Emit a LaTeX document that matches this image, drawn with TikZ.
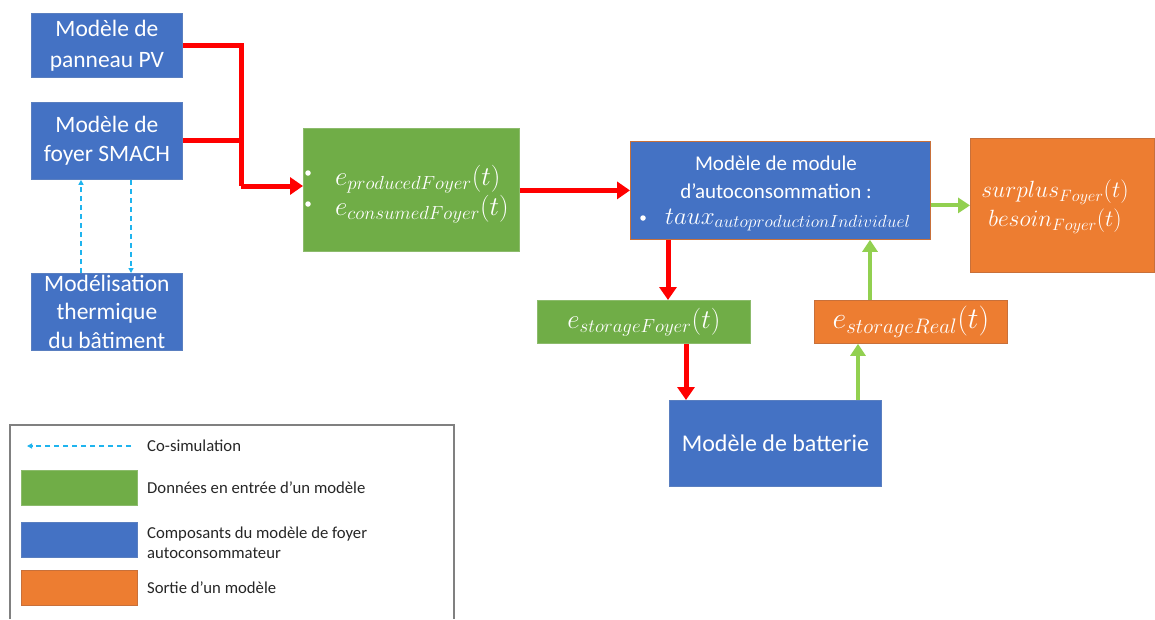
\RequirePackage{fix-cm}
\documentclass[tikz,border=0pt]{standalone}
\usepackage[no-math]{fontspec}
\setmainfont{Carlito}
\usetikzlibrary{arrows.meta}
\definecolor{cblue}{HTML}{4472C4}
\definecolor{cblueb}{HTML}{5A7FC0}
\definecolor{cgreen}{HTML}{70AD47}
\definecolor{cgreenb}{HTML}{8CBB6C}
\definecolor{corange}{HTML}{ED7D31}
\definecolor{corangeb}{HTML}{C8703A}
\definecolor{cred}{HTML}{FF0000}
\definecolor{clgreen}{HTML}{92D050}
\definecolor{ccyan}{HTML}{1FB4EE}
\definecolor{cgray}{HTML}{808080}
\definecolor{ctext}{HTML}{262626}
\begin{document}
\begin{tikzpicture}[x=1pt,y=-1pt,
  mbox/.style={draw, line width=0.8pt, inner sep=0pt, anchor=north west, text=white, align=center,
    font=\fontsize{23.5}{29}\selectfont},
  bluebox/.style={mbox, fill=cblue, draw=cblueb},
  greenbox/.style={mbox, fill=cgreen, draw=cgreenb},
  orangebox/.style={mbox, fill=corange, draw=corangeb},
  wtext/.style={text=white, inner sep=0pt},
  bul/.style={circle, fill=white, inner sep=0pt, minimum size=5.5pt},
  redarrow/.style={draw=cred, line width=5pt, -{Triangle[length=13pt,width=17pt]}},
  redline/.style={draw=cred, line width=5pt},
  greenarrow/.style={draw=clgreen, line width=4pt, -{Triangle[length=12pt,width=15pt]}},
  cosim/.style={draw=ccyan, line width=1.4pt, dash pattern=on 5pt off 4pt, -{Triangle[length=5pt,width=5pt]}},
  legtext/.style={anchor=west, inner sep=0pt, text=ctext, align=left, font=\fontsize{16.7}{20}\selectfont},
  legrect/.style={draw, line width=0.7pt, inner sep=0pt, anchor=north west, minimum width=116pt, minimum height=35pt}
]
\useasboundingbox (0,0) rectangle (1155,619);

% main boxes
\node[bluebox, minimum width=151pt, minimum height=64pt, font=\fontsize{23.5}{31}\selectfont] (pv) at (31,13) {Modèle de\\panneau PV};
\node[bluebox, minimum width=151pt, minimum height=77pt] (smach) at (31,102) {Modèle de\\foyer SMACH};
\node[bluebox, minimum width=151pt, minimum height=77pt, font=\fontsize{23.5}{28.5}\selectfont] (therm) at (31,273) {Modélisation\\thermique\\du bâtiment};

\node[greenbox, minimum width=216pt, minimum height=123pt] (inp) at (303,128) {};
\node[bul] (b1) at (308,173) {};
\node[bul] (b2) at (308,204) {};
\node[wtext, anchor=base west, font=\fontsize{27}{29}\selectfont] (inpa) at (335,185) {$e_{producedFoyer}(t)$};
\node[wtext, anchor=base west, font=\fontsize{27}{29}\selectfont] (inpb) at (335,215) {$e_{consumedFoyer}(t)$};

\node[bluebox, draw=corangeb, minimum width=300pt, minimum height=98pt] (mod) at (630,141) {};
\node[wtext, font=\fontsize{21}{24}\selectfont] (moda) at (776,163) {Modèle de module};
\node[wtext, font=\fontsize{21}{24}\selectfont] (modb) at (776,191) {d’autoconsommation :};
\node[bul] (b3) at (643,218) {};
\node[wtext, anchor=base west, font=\fontsize{25}{26}\selectfont] (modc) at (665,224) {$taux_{autoproductionIndividuel}$};

\node[orangebox, minimum width=184pt, minimum height=134pt] (out) at (970,138) {};
\node[wtext, align=center, font=\fontsize{23.5}{29}\selectfont] (outt) at (1055,207)
  {$surplus_{Foyer}(t)$\\$besoin_{Foyer}(t)$};

\node[greenbox, minimum width=213pt, minimum height=43pt, font=\fontsize{27}{29}\selectfont] (sf) at (537,300) {$e_{storageFoyer}(t)$};
\node[orangebox, minimum width=193pt, minimum height=43pt, font=\fontsize{30}{31}\selectfont] (sr) at (814,300) {$e_{storageReal}(t)$};
\node[bluebox, minimum width=212pt, minimum height=86pt, font=\fontsize{24}{29}\selectfont] (bat) at (669,400) {Modèle de batterie};

% connectors
\coordinate (j) at (241,186);
\draw[redline] (pv.east) -| (j);
\draw[redline] (smach.east) -- (smach.east -| j);
\draw[redarrow] (j) -- (j -| inp.west);
\draw[redarrow] (inp.east |- mod.west) -- (mod.west);
\draw[greenarrow] (out.west -| mod.east) -- (out.west);

\coordinate (c1) at (668,0);
\coordinate (c2) at (686,0);
\coordinate (c3) at (858,0);
\coordinate (c4) at (870,0);
\draw[redarrow] (c1 |- mod.south) -- (c1 |- sf.north);
\draw[redarrow] (c2 |- sf.south) -- (c2 |- bat.north);
\draw[greenarrow] (c3 |- bat.north) -- (c3 |- sr.south);
\draw[greenarrow] (c4 |- sr.north) -- (c4 |- mod.south);

\coordinate (d1) at (81,0);
\coordinate (d2) at (131,0);
\draw[cosim] (d1 |- therm.north) -- (d1 |- smach.south);
\draw[cosim] (d2 |- smach.south) -- (d2 |- therm.north);

% legend
\draw[cgray, line width=1.1pt] (10,619) -- (10,425) -- (454,425) -- (454,619);
\coordinate (la) at (131,446);
\coordinate (lb) at (27,446);
\draw[cosim] (la) -- (lb);
\node[legtext] (lt1) at (147,446) {Co-simulation};
\node[legrect, fill=cgreen, draw=cgreenb] (lg) at (21,470) {};
\node[legtext] (lt2) at (147,488) {Données en entrée d’un modèle};
\node[legrect, fill=cblue, draw=cblueb] (lbl) at (21,522) {};
\node[legtext] (lt3) at (147,543) {Composants du modèle de foyer\\autoconsommateur};
\node[legrect, fill=corange, draw=corangeb] (lo) at (21,570) {};
\node[legtext] (lt4) at (147,588) {Sortie d’un modèle};
\end{tikzpicture}
\end{document}
